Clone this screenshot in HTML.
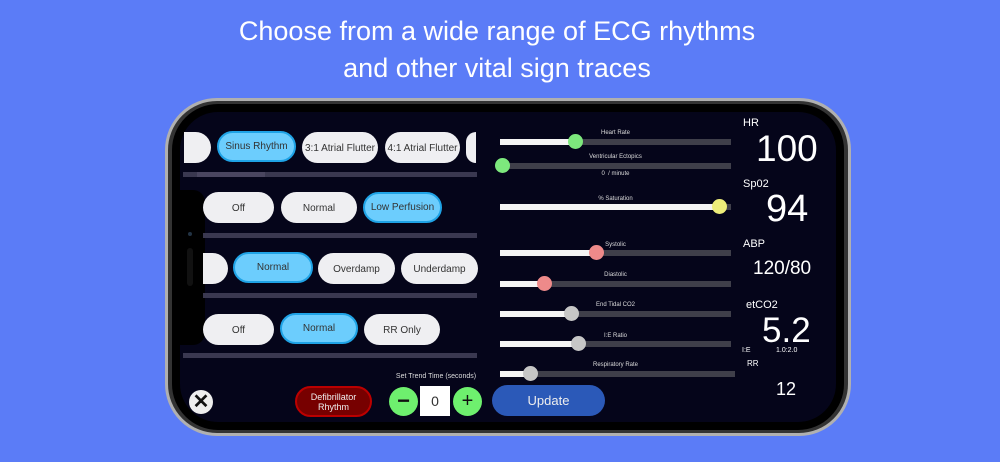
<!DOCTYPE html>
<html><head><meta charset="utf-8"><style>
*{margin:0;padding:0;box-sizing:border-box}
body{width:1000px;height:462px;background:#5b7cf7;position:relative;overflow:hidden;font-family:"Liberation Sans",sans-serif}
.a{position:absolute}
.t{color:#fff;text-align:center;width:1000px;font-size:27px;left:-3px}
.btn{position:absolute;height:31px;border-radius:16px;background:#efeff2;color:#333;font-size:10px;display:flex;align-items:center;justify-content:center;padding-top:2px}
.on{background:#6ccdfd;border:2px solid #1fa3e6;padding-top:0}
.bar{position:absolute;height:5px;background:#3a3850}
.trk{position:absolute;height:6px;background:#3f3f4a;left:500px;width:231px}
.fill{position:absolute;left:0;top:0;height:6px;background:#f4f4f4}
.th{position:absolute;width:15px;height:15px;border-radius:50%;top:-5px}
.lb{position:absolute;color:#ddd;font-size:6px;text-align:center;width:231px;left:500px}
.v{position:absolute;color:#fff}
</style></head><body>
<div class="a t" style="top:16px">Choose from a wide range of ECG rhythms</div>
<div class="a t" style="top:53px">and other vital sign traces</div>
<div class="a" style="left:165px;top:98px;width:686px;height:338px;border-radius:52px;background:#333;border:3px solid #b0b0b0"></div>
<div class="a" style="left:172px;top:104px;width:672px;height:326px;border-radius:46px;background:#000"></div>
<div class="a" style="left:180px;top:112px;width:656px;height:310px;border-radius:38px;background:#05051a;overflow:hidden">
</div>
<div class="a" style="left:180px;top:190px;width:25px;height:155px;background:#000;border-radius:0 12px 12px 0"></div>
<div class="a" style="left:188px;top:232px;width:4px;height:4px;border-radius:50%;background:#234"></div>
<div class="a" style="left:187px;top:248px;width:6px;height:38px;border-radius:3px;background:#111"></div>

<div class="btn" style="left:184px;top:132px;width:27px;border-radius:0 16px 16px 0"></div>
<div class="btn on" style="left:217px;top:131px;width:79px">Sinus Rhythm</div>
<div class="btn" style="left:302px;top:132px;width:76px">3:1 Atrial Flutter</div>
<div class="btn" style="left:385px;top:132px;width:75px">4:1 Atrial Flutter</div>
<div class="btn" style="left:466px;top:132px;width:10px;border-radius:16px 0 0 16px"></div>
<div class="bar" style="left:183px;top:172px;width:294px"></div>
<div class="bar" style="left:197px;top:172px;width:68px;background:#4a4660"></div>

<div class="btn" style="left:203px;top:192px;width:71px">Off</div>
<div class="btn" style="left:281px;top:192px;width:76px">Normal</div>
<div class="btn on" style="left:363px;top:192px;width:79px">Low Perfusion</div>
<div class="bar" style="left:203px;top:233px;width:274px"></div>

<div class="btn" style="left:203px;top:253px;width:25px;border-radius:0 16px 16px 0"></div>
<div class="btn on" style="left:233px;top:252px;width:80px">Normal</div>
<div class="btn" style="left:318px;top:253px;width:77px">Overdamp</div>
<div class="btn" style="left:401px;top:253px;width:77px">Underdamp</div>
<div class="bar" style="left:203px;top:293px;width:274px"></div>

<div class="btn" style="left:203px;top:314px;width:71px">Off</div>
<div class="btn on" style="left:280px;top:313px;width:78px">Normal</div>
<div class="btn" style="left:364px;top:314px;width:76px">RR Only</div>
<div class="bar" style="left:183px;top:353px;width:294px"></div>

<div class="a" style="left:189px;top:390px;width:24px;height:24px;border-radius:50%;background:#eee;color:#111;font-size:20px;font-weight:bold;text-align:center;line-height:24px">✕</div>
<div class="btn" style="left:295px;top:386px;width:77px;background:#700;border:2px solid #b00;color:#eee;font-size:9px;text-align:center;line-height:10px;padding:0">Defibrillator<br>Rhythm</div>
<div class="a" style="left:395px;top:373px;width:82px;color:#ddd;font-size:7px;text-align:center">Set Trend Time (seconds)</div>
<div class="a" style="left:389px;top:387px;width:29px;height:29px;border-radius:50%;background:#6ef06e;text-align:center;line-height:28px;font-size:22px;font-weight:bold;color:#111">−</div>
<div class="a" style="left:420px;top:386px;width:30px;height:30px;background:#fff;text-align:center;line-height:30px;font-size:14px;color:#333">0</div>
<div class="a" style="left:453px;top:387px;width:29px;height:29px;border-radius:50%;background:#6ef06e;text-align:center;line-height:28px;font-size:20px;color:#111">+</div>
<div class="a" style="left:492px;top:385px;width:113px;height:31px;border-radius:16px;background:#2b59b8;color:#eee;font-size:13px;text-align:center;line-height:31px">Update</div>

<div class="lb" style="top:130px">Heart Rate</div>
<div class="trk" style="top:139px"><div class="fill" style="width:75px"></div><div class="th" style="left:68px;background:#7de87d"></div></div>
<div class="lb" style="top:154px">Ventricular Ectopics</div>
<div class="trk" style="top:163px"><div class="th" style="left:-5px;background:#7de87d"></div></div>
<div class="lb" style="top:171px">0 &nbsp;/ minute</div>
<div class="lb" style="top:196px">% Saturation</div>
<div class="trk" style="top:204px"><div class="fill" style="width:219px"></div><div class="th" style="left:212px;background:#eded7a"></div></div>
<div class="lb" style="top:242px">Systolic</div>
<div class="trk" style="top:250px"><div class="fill" style="width:96px"></div><div class="th" style="left:89px;background:#ee8a8a"></div></div>
<div class="lb" style="top:272px">Diastolic</div>
<div class="trk" style="top:281px"><div class="fill" style="width:44px"></div><div class="th" style="left:37px;background:#ee8a8a"></div></div>
<div class="lb" style="top:302px">End Tidal CO2</div>
<div class="trk" style="top:311px"><div class="fill" style="width:71px"></div><div class="th" style="left:64px;background:#c6c6c6"></div></div>
<div class="lb" style="top:333px">I:E Ratio</div>
<div class="trk" style="top:341px"><div class="fill" style="width:78px"></div><div class="th" style="left:71px;background:#c6c6c6"></div></div>
<div class="lb" style="top:362px">Respiratory Rate</div>
<div class="trk" style="top:371px;width:235px"><div class="fill" style="width:30px"></div><div class="th" style="left:23px;background:#c6c6c6"></div></div>

<div class="v" style="left:743px;top:117px;font-size:11px">HR</div>
<div class="v" style="left:756px;top:128px;font-size:37px">100</div>
<div class="v" style="left:743px;top:178px;font-size:11px">Sp02</div>
<div class="v" style="left:766px;top:188px;font-size:38px">94</div>
<div class="v" style="left:743px;top:238px;font-size:11px">ABP</div>
<div class="v" style="left:753px;top:258px;font-size:19px">120/80</div>
<div class="v" style="left:746px;top:299px;font-size:11px">etCO2</div>
<div class="v" style="left:762px;top:311px;font-size:35px">5.2</div>
<div class="v" style="left:742px;top:347px;font-size:7px">I:E</div>
<div class="v" style="left:776px;top:347px;font-size:7px">1.0:2.0</div>
<div class="v" style="left:747px;top:359px;font-size:8px">RR</div>
<div class="v" style="left:776px;top:379px;font-size:18px">12</div>
</body></html>
